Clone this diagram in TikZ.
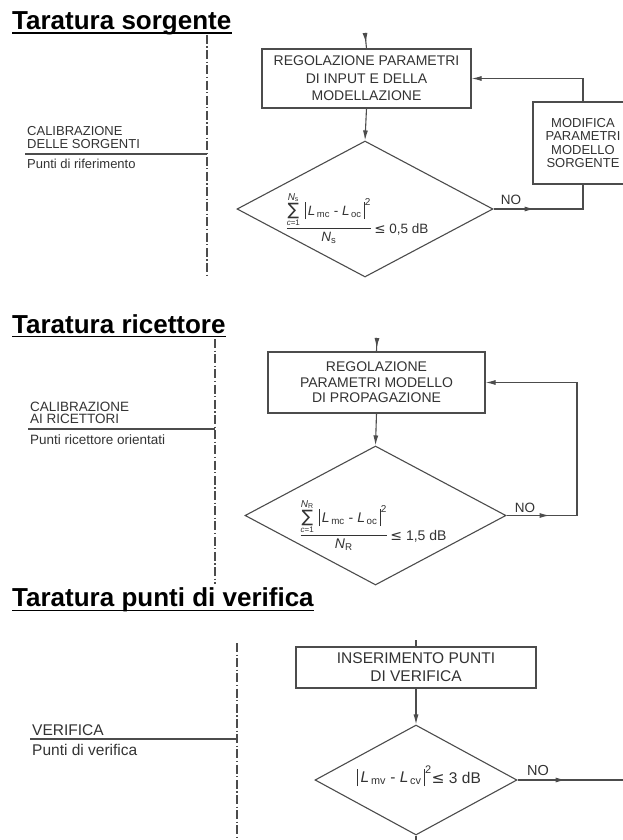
\documentclass[tikz,border=0pt]{standalone}
\usepackage{fontspec}
\setmainfont{Liberation Sans}
\newfontfamily\symf{DejaVu Sans}
\usetikzlibrary{arrows.meta,shapes.geometric,decorations.markings}
\definecolor{linec}{gray}{0.3}
\definecolor{textc}{gray}{0.2}
\newcommand\fsz[2]{\fontsize{#1}{#2}\selectfont}
\newcommand\tallbar{\rule[-4pt]{0.9pt}{17pt}}
\newcommand\sumlim[2]{\mathop{\hbox{\symf\fsz{17}{17}∑}}\limits^{\hbox{\fsz{10}{10}#1}}_{\hbox{\fsz{8}{8}#2}}}
\tikzset{
 ttl/.style={font=\fsz{26}{28}\bfseries, inner sep=0, text=black},
 lab/.style={inner sep=0, text=textc, align=left},
 box/.style={draw=linec, line width=1.1pt, align=center, inner sep=0, text=textc, fill=white},
 dec/.style={draw=linec, line width=1.1pt, diamond, inner sep=0},
 conn/.style={draw=linec, line width=1.1pt},
 axisline/.style={draw=linec, line width=1.3pt, dash pattern=on 9pt off 2.5pt on 1.2pt off 2.5pt},
 tipend/.style={-{Latex[length=10pt,width=5pt]}},
 midarr/.style={postaction={decorate}, decoration={markings, mark=at position #1 with {\arrow{Latex[length=10pt,width=5pt]}}}},
 uline/.style={draw=black, line width=1.8pt},
}
\begin{document}
\begin{tikzpicture}[x=1pt,y=-1pt]
\useasboundingbox[fill=white] (0,0) rectangle (623,840);

% ================= Section 1 =================
\node[ttl, anchor=base west] (t1) at (12,29.5) {Taratura sorgente};
\draw[uline] ([yshift=-3.2pt]t1.base west) -- ([yshift=-3.2pt]t1.base east);

\coordinate (v1a) at (207,35);
\coordinate (v1b) at (207,278);
\draw[axisline] (v1a) -- (v1b);
\coordinate (h1a) at (25,154);
\coordinate (h1b) at (207,154);
\draw[conn] (h1a) -- (h1b);
\node[lab, font=\fsz{13}{12.5}, anchor=west] (l1) at (27,137.5) {CALIBRAZIONE\\DELLE SORGENTI};
\node[lab, font=\fsz{13}{13}, anchor=base west] (p1) at (27,168.7) {Punti di riferimento};

\node[box, font=\fsz{14}{17.5}, minimum width=209pt, minimum height=59pt] (b1) at (366.5,78.5)
  {REGOLAZIONE PARAMETRI\\DI INPUT E DELLA\\MODELLAZIONE};
\node[box, font=\fsz{13}{13.4}, minimum width=100pt, minimum height=82pt] (b2) at (583,143)
  {MODIFICA\\PARAMETRI\\MODELLO\\SORGENTE};
\node[dec, minimum width=256pt, minimum height=136pt] (d1) at (365,209) {};
\node[inner sep=0, text=textc, font=\fsz{13.5}{13.5}] (f1) at (357,218)
  {$\displaystyle\frac{\sumlim{\textit{N}\textsubscript{s}}{\textit{c}=1}\,\hbox{\tallbar\,\textit{L}\textsubscript{\,mc} - \textit{L}\textsubscript{\,oc}\,\tallbar}^{\hbox{\fsz{10}{10}2}}}{\hbox{\textit{N}\textsubscript{s}}}$\,\raisebox{-1.5pt}{{\symf ≤} 0,5 dB}};
\node[lab, font=\fsz{13.5}{13.5}] (no1) at (511,200) {NO};

\coordinate (in1) at (365,33);
\draw[conn, midarr=10pt] (in1) -- (b1.north);
\draw[conn, tipend] (b1.south) -- (d1.north);
\draw[conn, midarr=41pt] (d1.east) -| (b2.south);
\draw[conn, tipend] (b2.north) |- (b1.east);

% ================= Section 2 =================
\node[ttl, anchor=base west] (t2) at (12,333) {Taratura ricettore};
\draw[uline] ([yshift=-3.5pt]t2.base west) -- ([yshift=-3.5pt]t2.base east);

\coordinate (v2a) at (215,339);
\coordinate (v2b) at (215,584);
\draw[axisline] (v2a) -- (v2b);
\coordinate (h2a) at (28,429);
\coordinate (h2b) at (215,429);
\draw[conn] (h2a) -- (h2b);
\node[lab, font=\fsz{13.5}{12.5}, anchor=west] (l2) at (30,413) {CALIBRAZIONE\\AI RICETTORI};
\node[lab, font=\fsz{13.5}{13.5}, anchor=base west] (p2) at (30,444.7) {Punti ricettore orientati};

\node[box, font=\fsz{14}{15.5}, minimum width=217pt, minimum height=61pt] (b3) at (376.5,382.5)
  {REGOLAZIONE\\PARAMETRI MODELLO\\DI PROPAGAZIONE};
\node[dec, minimum width=261pt, minimum height=139pt] (d2) at (375.5,515.5) {};
\node[inner sep=0, text=textc, font=\fsz{14}{14}] (f2) at (373,525)
  {$\displaystyle\frac{\sumlim{\textit{N}\textsubscript{R}}{\textit{c}=1}\,\hbox{\tallbar\,\textit{L}\textsubscript{\,mc} - \textit{L}\textsubscript{\,oc}\,\tallbar}^{\hbox{\fsz{10}{10}2}}}{\hbox{\textit{N}\textsubscript{R}}}$\,\raisebox{-1.5pt}{{\symf ≤} 1,5 dB}};
\node[lab, font=\fsz{13.5}{13.5}] (no2) at (525,508) {NO};

\coordinate (in2) at (377,338);
\coordinate (c3) at (577,515.5);
\draw[conn, midarr=10pt] (in2) -- (b3.north);
\draw[conn, tipend] (b3.south) -- (d2.north);
\draw[conn, midarr=43pt, tipend] (d2.east) -- (c3) |- (b3.east);

% ================= Section 3 =================
\node[ttl, anchor=base west] (t3) at (12,606.7) {Taratura punti di verifica};
\draw[uline] ([yshift=-3.8pt]t3.base west) -- ([yshift=-3.8pt]t3.base east);

\coordinate (v3a) at (237,643);
\coordinate (v3b) at (237,842);
\draw[axisline] (v3a) -- (v3b);
\coordinate (h3a) at (30,739);
\coordinate (h3b) at (237,739);
\draw[conn] (h3a) -- (h3b);
\node[lab, font=\fsz{15.5}{15.5}, anchor=base west] (l3) at (32,735.5) {VERIFICA};
\node[lab, font=\fsz{15.5}{15.5}, anchor=base west] (p3) at (32,755.5) {Punti di verifica};

\node[box, font=\fsz{15.5}{18}, minimum width=240pt, minimum height=41pt] (b4) at (416,667.5)
  {INSERIMENTO PUNTI\\DI VERIFICA};
\node[dec, minimum width=202pt, minimum height=110pt] (d3) at (416,780) {};
\node[inner sep=0, text=textc, font=\fsz{15.5}{15.5}] (f3) at (419,776)
  {$\hbox{\tallbar\,\textit{L}\textsubscript{\,mv} - \textit{L}\textsubscript{\,cv}\,\tallbar}^{\hbox{\fsz{11}{11}2}}$\raisebox{-1pt}{{\symf ≤} 3 dB}};
\node[lab, font=\fsz{14.5}{14.5}] (no3) at (538,770) {NO};

\coordinate (in3) at (416,640);
\coordinate (e3) at (640,780);
\coordinate (o3) at (416,845);
\draw[conn] (in3) -- (b4.north);
\draw[conn, tipend] (b4.south) -- (d3.north);
\draw[conn, midarr=48pt] (d3.east) -- (e3);
\draw[conn] (d3.south) -- (o3);
\end{tikzpicture}
\end{document}
